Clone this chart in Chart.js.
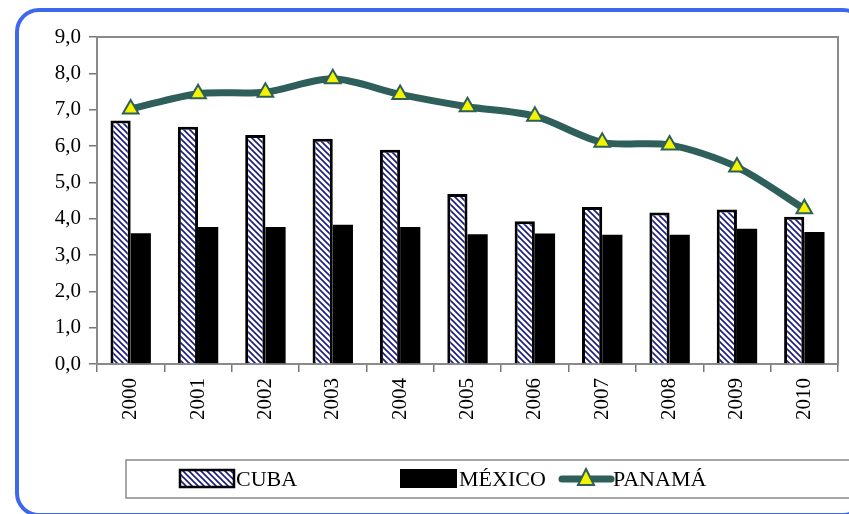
<!DOCTYPE html>
<html>
<head>
<meta charset="utf-8">
<script src="https://cdn.jsdelivr.net/npm/chart.js@4/dist/chart.umd.min.js"></script>
<style>
  html, body { margin: 0; padding: 0; background: #fff; overflow: hidden; }
  #frame {
    position: absolute; left: 15px; top: 8px; width: 852px; height: 509px;
    box-sizing: border-box; border: 4px solid #3d68ee; border-radius: 24px;
  }
  #wrap { position: absolute; left: 0; top: 0; width: 849px; height: 514px; }
</style>
</head>
<body>
<div id="frame"></div>
<div id="wrap"><canvas id="chart" width="849" height="514"></canvas></div>
<script>
const years = ['2000', '2001', '2002', '2003', '2004', '2005', '2006', '2007', '2008', '2009', '2010'];
const cuba = [6.7, 6.53, 6.3, 6.2, 5.9, 4.68, 3.93, 4.32, 4.17, 4.25, 4.05];
const mexico = [3.6, 3.77, 3.77, 3.83, 3.77, 3.57, 3.59, 3.56, 3.56, 3.72, 3.63];
const panama = [7.02, 7.44, 7.48, 7.85, 7.42, 7.08, 6.82, 6.1, 6.03, 5.42, 4.27];
const seriesNames = ['CUBA', 'MÉXICO', 'PANAMÁ'];

const serif = '"Liberation Serif", "DejaVu Serif", serif';
const teal = '#2f5f5a';
const yellow = '#f4f400';

// diagonal hatch used by the CUBA bars
function makeHatch() {
  const c = document.createElement('canvas');
  c.width = 6; c.height = 6;
  const g = c.getContext('2d');
  g.fillStyle = '#fff';
  g.fillRect(0, 0, 6, 6);
  g.strokeStyle = '#1c1c80';
  g.lineWidth = 1.6;
  g.beginPath();
  g.moveTo(-1, -1); g.lineTo(7, 7);
  g.moveTo(-4, 2); g.lineTo(4, 10);
  g.moveTo(2, -4); g.lineTo(10, 4);
  g.stroke();
  return g.createPattern(c, 'repeat');
}
const hatch = makeHatch();

const plotBorder = {
  id: 'plotBorder',
  beforeDatasetsDraw(chart) {
    const a = chart.chartArea, ctx = chart.ctx;
    ctx.save();
    ctx.strokeStyle = '#8a8a8a';
    ctx.lineWidth = 2;
    ctx.strokeRect(a.left, a.top, a.right - a.left, a.bottom - a.top);
    ctx.restore();
  }
};

const boxLegend = {
  id: 'boxLegend',
  afterDraw(chart) {
    const ctx = chart.ctx;
    ctx.save();
    ctx.strokeStyle = '#8a8a8a';
    ctx.lineWidth = 1.5;
    ctx.strokeRect(126, 460, 740, 38);

    const midY = 479;
    // CUBA
    ctx.fillStyle = hatch;
    ctx.fillRect(180, 470, 54, 17);
    ctx.strokeStyle = '#000';
    ctx.lineWidth = 2.5;
    ctx.strokeRect(180, 470, 54, 17);
    // MEXICO
    ctx.fillStyle = '#000';
    ctx.fillRect(400, 469, 57, 19);
    // PANAMA
    ctx.strokeStyle = teal;
    ctx.lineWidth = 7;
    ctx.lineCap = 'round';
    ctx.beginPath();
    ctx.moveTo(562, midY); ctx.lineTo(611, midY);
    ctx.stroke();
    ctx.fillStyle = yellow;
    ctx.lineWidth = 2;
    ctx.lineCap = 'butt';
    ctx.beginPath();
    ctx.moveTo(586, 469); ctx.lineTo(594, 485); ctx.lineTo(578, 485); ctx.closePath();
    ctx.fill(); ctx.stroke();

    ctx.fillStyle = '#000';
    ctx.font = '22px ' + serif;
    ctx.textBaseline = 'middle';
    ctx.fillText(seriesNames[0], 236, midY + 1);
    ctx.fillText(seriesNames[1], 459, midY + 1);
    ctx.fillText(seriesNames[2], 613, midY + 1);
    ctx.restore();
  }
};

new Chart(document.getElementById('chart'), {
  type: 'bar',
  data: {
    labels: years,
    datasets: [
      {
        type: 'line',
        label: seriesNames[2],
        data: panama,
        order: 0,
        borderColor: teal,
        borderWidth: 7,
        tension: 0.3,
        fill: false,
        clip: false,
        pointStyle: 'triangle',
        pointRadius: 9,
        pointBackgroundColor: yellow,
        pointBorderColor: teal,
        pointBorderWidth: 2
      },
      {
        label: seriesNames[0],
        data: cuba,
        order: 1,
        backgroundColor: hatch,
        borderColor: '#000',
        borderWidth: 3,
        borderSkipped: 'bottom'
      },
      {
        label: seriesNames[1],
        data: mexico,
        order: 1,
        backgroundColor: '#000',
        borderWidth: 0
      }
    ]
  },
  options: {
    responsive: false,
    animation: false,
    datasets: { bar: { categoryPercentage: 0.6, barPercentage: 1.0 } },
    layout: { padding: { top: 37, right: 10, left: 0, bottom: 0 } },
    scales: {
      x: {
        offset: true,
        grid: { offset: true, drawOnChartArea: false, tickLength: 8, color: '#777', lineWidth: 1.5 },
        border: { color: '#777', width: 2 },
        ticks: { maxRotation: 90, minRotation: 90, padding: 6, color: '#000', font: { family: serif, size: 21 } },
        afterFit: s => { s.height = 150; }
      },
      y: {
        min: 0,
        max: 9,
        ticks: {
          stepSize: 1,
          padding: 8,
          color: '#000',
          font: { family: serif, size: 21 },
          callback: v => v.toFixed(1).replace('.', ',')
        },
        grid: { drawOnChartArea: false, tickLength: 8, color: '#777', lineWidth: 1.5 },
        border: { color: '#777', width: 2 },
        afterFit: s => { s.width = 97; }
      }
    },
    plugins: {
      legend: { display: false },
      tooltip: { enabled: false }
    }
  },
  plugins: [plotBorder, boxLegend]
});
</script>
</body>
</html>
